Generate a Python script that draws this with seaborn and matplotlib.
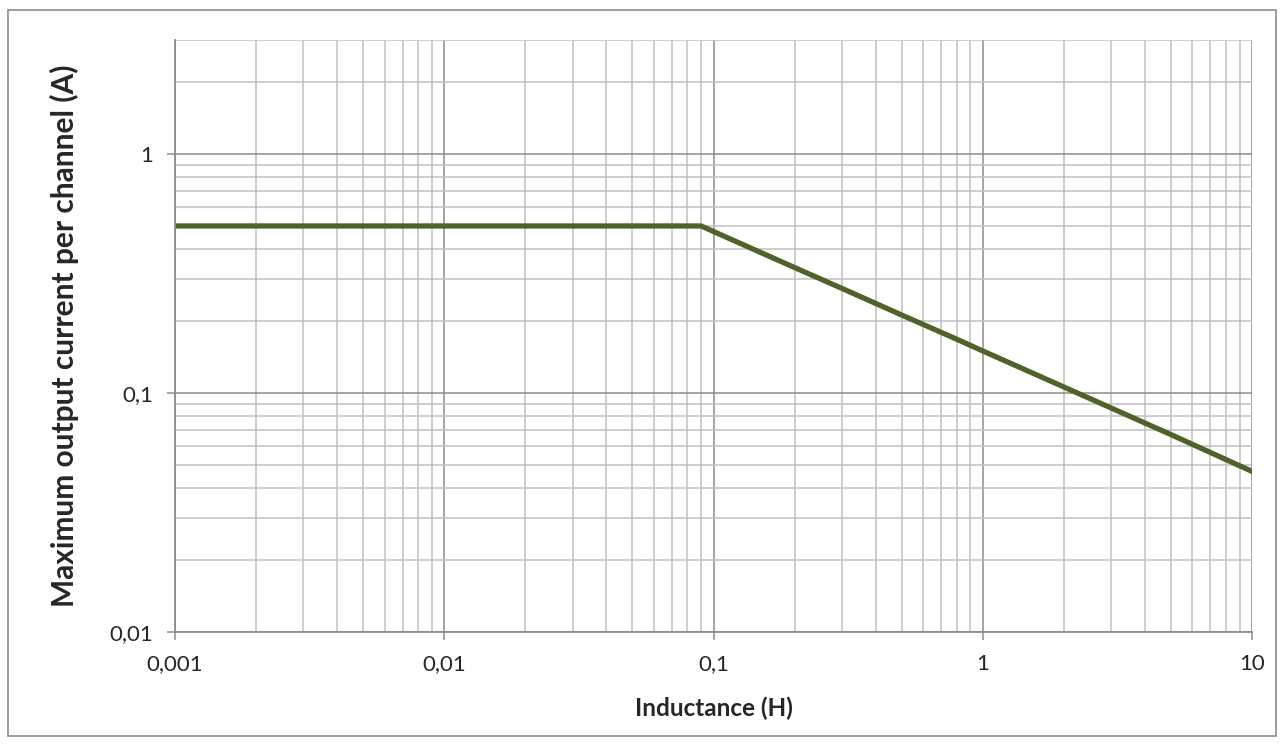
import numpy as np
import pandas as pd
import matplotlib
matplotlib.use("Agg")
import matplotlib.pyplot as plt
import matplotlib.ticker as mticker
from matplotlib.patches import Rectangle
import seaborn as sns

# values
inductance = [0.001, 0.01, 0.09, 0.1, 0.2, 0.3, 0.5, 0.8, 1, 2, 5, 10]
max_current = [0.5, 0.5, 0.5, 0.474, 0.335, 0.274, 0.212, 0.168, 0.15, 0.106, 0.067, 0.047]
x_ticks = [0.001, 0.01, 0.1, 1, 10]
x_labels = ["0,001", "0,01", "0,1", "1", "10"]
y_ticks = [0.01, 0.1, 1]
y_labels = ["0,01", "0,1", "1"]

df = pd.DataFrame({"L": inductance, "I": max_current})

sns.set_style("white")
plt.rcParams["font.family"] = ["Lato", "DejaVu Sans"]

fig = plt.figure(figsize=(12.84, 7.46), dpi=100)
ax = fig.add_axes([175 / 1284, 1 - 632 / 746, (1252 - 175) / 1284, (632 - 40) / 746])

ax.set_xscale("log")
ax.set_yscale("log")
ax.set_xlim(0.001, 10)
ax.set_ylim(0.01, 3)

# grid like the spreadsheet chart
ax.xaxis.set_minor_locator(mticker.LogLocator(base=10, subs=np.arange(2, 10)))
ax.yaxis.set_minor_locator(mticker.LogLocator(base=10, subs=np.arange(2, 10)))
ax.grid(which="minor", color="#c0c0c0", linewidth=1.1)
ax.grid(which="major", color="#8c8c8c", linewidth=1.1)
ax.set_axisbelow(True)

sns.lineplot(data=df, x="L", y="I", ax=ax, color="#4f6228", linewidth=3.8)

ax.set_xticks(x_ticks)
ax.set_xticklabels(x_labels)
ax.set_yticks(y_ticks)
ax.set_yticklabels(y_labels)
ax.xaxis.set_minor_formatter(mticker.NullFormatter())
ax.yaxis.set_minor_formatter(mticker.NullFormatter())
ax.tick_params(which="major", length=6, width=1.1, color="#8c8c8c",
               labelsize=16, pad=10, bottom=True, left=True)
ax.tick_params(which="minor", length=0)

for side in ["top", "right"]:
    ax.spines[side].set_visible(False)
for side in ["left", "bottom"]:
    ax.spines[side].set_color("#8c8c8c")
    ax.spines[side].set_linewidth(1.3)

ax.set_xlabel("Inductance (H)", fontsize=17.5, fontweight="bold")
ax.xaxis.set_label_coords(0.5, -(697 - 632) / 592)
ax.set_ylabel("Maximum output current per channel (A)", fontsize=21.5,
              fontweight="bold")
ax.yaxis.set_label_coords((79 - 175) / 1077, 0.5)

# outer chart frame
fig.patches.append(Rectangle((8 / 1284, 10 / 746), 1268 / 1284, 726 / 746,
                             transform=fig.transFigure, fill=False,
                             edgecolor="#8c8c8c", linewidth=1.2))

fig.savefig("out.png", dpi=100)
